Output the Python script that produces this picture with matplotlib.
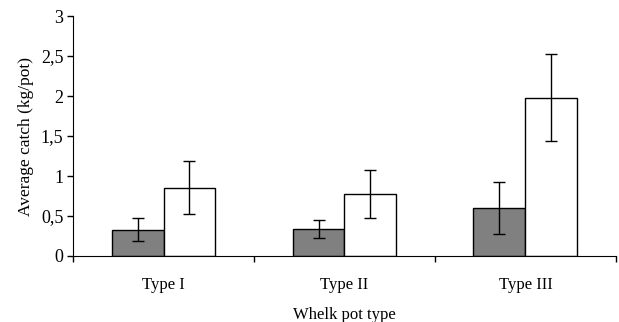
import matplotlib
matplotlib.use("Agg")
import matplotlib.pyplot as plt
import numpy as np
from matplotlib.ticker import FuncFormatter

categories = ["Type I", "Type II", "Type III"]
gray_vals = [0.33, 0.34, 0.60]
gray_err = [0.14, 0.115, 0.33]
white_vals = [0.855, 0.77, 1.98]
white_err = [0.335, 0.30, 0.54]

plt.rcParams['font.family'] = ['Liberation Serif', 'DejaVu Serif']

fig = plt.figure(figsize=(6.19, 3.22), dpi=100)
ax = fig.add_axes([0.118, 0.205, 0.877, 0.745])

x = np.arange(len(categories))
w = 0.287
ekw = dict(elinewidth=1, capthick=1, ecolor="black")
ax.bar(x - w / 2, gray_vals, w, yerr=gray_err, capsize=4, color="#808080",
       edgecolor="black", linewidth=1, error_kw=ekw)
ax.bar(x + w / 2, white_vals, w, yerr=white_err, capsize=4, color="white",
       edgecolor="black", linewidth=1, error_kw=ekw)

ax.set_xlim(-0.5, 2.5)
ax.set_ylim(0, 3)
ax.set_yticks(np.arange(0, 3.01, 0.5))
ax.yaxis.set_major_formatter(FuncFormatter(lambda v, p: f"{v:g}".replace(".", ",")))

ax.set_xticks([-0.5, 0.5, 1.5, 2.5])
ax.set_xticklabels([])
ax.set_xticks(x, minor=True)
ax.set_xticklabels(categories, minor=True)
ax.tick_params(axis="x", which="major", direction="out", length=4, width=1)
ax.tick_params(axis="x", which="minor", length=0, pad=15, labelsize=12)
ax.tick_params(axis="y", direction="out", length=4, width=1, labelsize=13, pad=3)

for s in ["top", "right"]:
    ax.spines[s].set_visible(False)

ax.set_ylabel("Average catch (kg/pot)", fontsize=12.5, labelpad=5)
ax.set_xlabel("Whelk pot type", fontsize=12, labelpad=10)

fig.savefig("out.png", dpi=100)
